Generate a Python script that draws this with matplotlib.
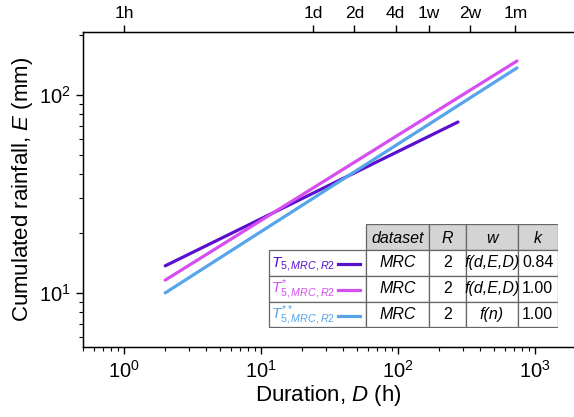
import numpy as np
import matplotlib.pyplot as plt
from matplotlib.patches import Rectangle
from matplotlib.ticker import NullFormatter, LogLocator, FixedLocator

plt.rcParams['font.family'] = ['Liberation Sans', 'DejaVu Sans']
plt.rcParams['mathtext.fontset'] = 'custom'
plt.rcParams['mathtext.rm'] = 'Liberation Sans'
plt.rcParams['mathtext.it'] = 'Liberation Sans:italic'
plt.rcParams['mathtext.bf'] = 'Liberation Sans:bold'

# curve endpoints (straight lines in log-log), duration D (h) and rainfall E (mm)
D_t5 = [2, 274]
E_t5 = [13.7, 73]
D_t5s = [2, 739]
E_t5s = [11.6, 148.5]
D_t5ss = [2, 739]
E_t5ss = [10.0, 137]

colors = ['#5a10cc', '#d64ef2', '#56a4ea']
labels = [r'$T_{5,MRC,R2}$', r'$T^{*}_{5,MRC,R2}$', r'$T^{**}_{5,MRC,R2}$']

# table content
col_heads = ['dataset', 'R', 'w', 'k']
datasets = ['MRC', 'MRC', 'MRC']
R_vals = ['2', '2', '2']
w_vals = ['f(d,E,D)', 'f(d,E,D)', 'f(n)']
k_vals = ['0.84', '1.00', '1.00']

# top axis ticks
top_ticks = [1, 24, 48, 96, 168, 336, 720]
top_labels = ['1h', '1d', '2d', '4d', '1w', '2w', '1m']

W, H = 574, 417
fig = plt.figure(figsize=(W / 100, H / 100), dpi=100)
ax = fig.add_axes([82.7 / W, 70 / H, (W - 82.7) / W, 315 / H])

ax.plot(D_t5, E_t5, color=colors[0], lw=2.3, solid_capstyle='round')
ax.plot(D_t5s, E_t5s, color=colors[1], lw=2.3, solid_capstyle='round')
ax.plot(D_t5ss, E_t5ss, color=colors[2], lw=2.3, solid_capstyle='round')

ax.set_xscale('log')
ax.set_yscale('log')
ax.set_xlim(0.5, 10 ** ((W - 124) / 137.0))
ax.set_ylim(5.33, 208)
ax.spines['right'].set_visible(False)
for s in ['left', 'bottom', 'top']:
    ax.spines[s].set_linewidth(1.0)

ax.xaxis.set_minor_locator(LogLocator(base=10, subs=np.arange(2, 10)))
ax.yaxis.set_minor_locator(LogLocator(base=10, subs=np.arange(2, 10)))
ax.xaxis.set_minor_formatter(NullFormatter())
ax.yaxis.set_minor_formatter(NullFormatter())
ax.tick_params(which='major', direction='out', length=5, width=1, labelsize=14.5)
ax.tick_params(which='minor', direction='out', length=3, width=0.8)
ax.tick_params(axis='x', pad=4)

ax.set_xlabel(r'Duration, $D$ (h)', fontsize=16, labelpad=1)
ax.set_ylabel(r'Cumulated rainfall, $E$ (mm)', fontsize=16, labelpad=3)

ax2 = ax.twiny()
ax2.set_xscale('log')
ax2.set_xlim(ax.get_xlim())
ax2.xaxis.set_major_locator(FixedLocator(top_ticks))
ax2.xaxis.set_minor_locator(FixedLocator([]))
ax2.set_xticklabels(top_labels)
ax2.tick_params(direction='out', length=5, width=1, labelsize=12.5, pad=3)
ax2.spines['right'].set_visible(False)

# table drawn in pixel-like coordinates
tx0, tx1, ty0, ty1 = 268, 558, 224, 328
tab = fig.add_axes([tx0 / W, (H - ty1) / H, (tx1 - tx0) / W, (ty1 - ty0) / H])
tab.set_xlim(tx0, tx1)
tab.set_ylim(ty1, ty0)
tab.axis('off')
tab.patch.set_alpha(0)

col_x = [366, 429, 466, 518, 557.5]
row_y = [224.5, 250, 276, 302, 327.5]
edge = '#666666'

# header cells
for i in range(4):
    tab.add_patch(Rectangle((col_x[i], row_y[0]), col_x[i + 1] - col_x[i], row_y[1] - row_y[0],
                            facecolor='#d4d4d4', edgecolor=edge, lw=0.9))
    tab.text((col_x[i] + col_x[i + 1]) / 2, (row_y[0] + row_y[1]) / 2 + 1, col_heads[i],
             ha='center', va='center', fontsize=11.5, style='italic')

# body cells
body_cols = [268.5] + col_x
for r in range(3):
    for i in range(5):
        tab.add_patch(Rectangle((body_cols[i], row_y[r + 1]), body_cols[i + 1] - body_cols[i],
                                row_y[r + 2] - row_y[r + 1], facecolor='white', edgecolor=edge, lw=0.9))
    yc = (row_y[r + 1] + row_y[r + 2]) / 2
    tab.text(271, yc + 1, labels[r], ha='left', va='center', fontsize=11, color=colors[r])
    tab.plot([338, 360], [yc + 1, yc + 1], color=colors[r], lw=2.3)
    tab.text((col_x[0] + col_x[1]) / 2, yc, datasets[r], ha='center', va='center', fontsize=11.5, style='italic')
    tab.text((col_x[1] + col_x[2]) / 2, yc, R_vals[r], ha='center', va='center', fontsize=11.5)
    tab.text((col_x[2] + col_x[3]) / 2, yc, w_vals[r], ha='center', va='center', fontsize=11.5, style='italic')
    tab.text((col_x[3] + col_x[4]) / 2, yc, k_vals[r], ha='center', va='center', fontsize=11.5)

fig.savefig('out.png', dpi=100)
